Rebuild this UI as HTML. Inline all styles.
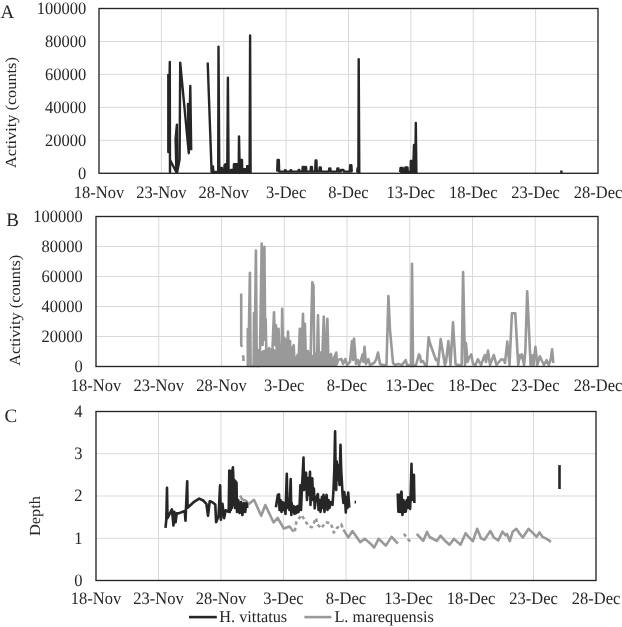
<!DOCTYPE html>
<html><head><meta charset="utf-8"><style>
html,body{margin:0;padding:0;background:#fff;}
body{width:622px;height:627px;overflow:hidden;}
svg{display:block;will-change:transform;}
text{font-family:"Liberation Serif", serif;fill:#262626;text-rendering:geometricPrecision;}
</style></head><body>
<svg width="622" height="627" viewBox="0 0 622 627">
<rect width="622" height="627" fill="#fff"/>
<line x1="161.38" y1="8.5" x2="161.38" y2="173.3" stroke="#d9d9d9" stroke-width="1"/>
<line x1="223.75" y1="8.5" x2="223.75" y2="173.3" stroke="#d9d9d9" stroke-width="1"/>
<line x1="286.12" y1="8.5" x2="286.12" y2="173.3" stroke="#d9d9d9" stroke-width="1"/>
<line x1="348.50" y1="8.5" x2="348.50" y2="173.3" stroke="#d9d9d9" stroke-width="1"/>
<line x1="410.88" y1="8.5" x2="410.88" y2="173.3" stroke="#d9d9d9" stroke-width="1"/>
<line x1="473.25" y1="8.5" x2="473.25" y2="173.3" stroke="#d9d9d9" stroke-width="1"/>
<line x1="535.62" y1="8.5" x2="535.62" y2="173.3" stroke="#d9d9d9" stroke-width="1"/>
<line x1="99" y1="140.34" x2="598" y2="140.34" stroke="#d9d9d9" stroke-width="1"/>
<line x1="99" y1="107.38" x2="598" y2="107.38" stroke="#d9d9d9" stroke-width="1"/>
<line x1="99" y1="74.42" x2="598" y2="74.42" stroke="#d9d9d9" stroke-width="1"/>
<line x1="99" y1="41.46" x2="598" y2="41.46" stroke="#d9d9d9" stroke-width="1"/>
<text transform="translate(86.3 178.7) scale(1 1.06)" text-anchor="end" font-size="16.5" >0</text>
<text transform="translate(86.3 145.7) scale(1 1.06)" text-anchor="end" font-size="16.5" >20000</text>
<text transform="translate(86.3 112.8) scale(1 1.06)" text-anchor="end" font-size="16.5" >40000</text>
<text transform="translate(86.3 79.8) scale(1 1.06)" text-anchor="end" font-size="16.5" >60000</text>
<text transform="translate(86.3 46.9) scale(1 1.06)" text-anchor="end" font-size="16.5" >80000</text>
<text transform="translate(86.3 13.9) scale(1 1.06)" text-anchor="end" font-size="16.5" >100000</text>
<text transform="translate(99.0 198) scale(1 1.06)" text-anchor="middle" font-size="16.5" >18-Nov</text>
<text transform="translate(161.4 198) scale(1 1.06)" text-anchor="middle" font-size="16.5" >23-Nov</text>
<text transform="translate(223.8 198) scale(1 1.06)" text-anchor="middle" font-size="16.5" >28-Nov</text>
<text transform="translate(286.1 198) scale(1 1.06)" text-anchor="middle" font-size="16.5" >3-Dec</text>
<text transform="translate(348.5 198) scale(1 1.06)" text-anchor="middle" font-size="16.5" >8-Dec</text>
<text transform="translate(410.9 198) scale(1 1.06)" text-anchor="middle" font-size="16.5" >13-Dec</text>
<text transform="translate(473.2 198) scale(1 1.06)" text-anchor="middle" font-size="16.5" >18-Dec</text>
<text transform="translate(535.6 198) scale(1 1.06)" text-anchor="middle" font-size="16.5" >23-Dec</text>
<text transform="translate(598.0 198) scale(1 1.06)" text-anchor="middle" font-size="16.5" >28-Dec</text>
<text transform="translate(0.5 17.6) scale(1 1.0)" text-anchor="start" font-size="19" >A</text>
<text x="0" y="0" text-anchor="middle" font-size="15.4" transform="translate(16.3,112.6) rotate(-90) scale(1.06 1)">Activity (counts)</text>
<polygon points="211.6,172.0 211.9,166.5 213.0,166.5 213.3,172.0 218.2,172.0 218.5,46.7 219.3,172.0 219.9,168.0 221.9,168.0 222.2,172.0 224.3,172.0 224.5,165.5 225.5,164.1 227.3,164.1 227.9,77.6 228.6,172.0 230.7,172.0 230.9,170.0 233.7,170.0 234.0,164.1 238.0,164.1 238.4,172.0 238.7,172.0 239.0,136.4 239.5,160.0 242.0,160.0 242.2,169.3 245.2,169.3 245.5,171.0 247.0,171.0 247.2,166.1 248.8,166.1 249.1,172.0 249.6,172.0 250.1,35.4 250.6,173.0 250.6,173.0 211.6,173.0" fill="#262626" stroke="none"/>
<polygon points="400.2,172.0 400.5,168.0 402.7,168.0 403.0,172.0 405.1,172.0 405.3,167.5 407.5,167.5 407.8,172.0 410.6,172.0 410.8,161.0 413.5,161.0 414.0,145.0 414.6,172.0 415.3,172.0 415.8,123.0 416.4,173.0 416.4,173.0 400.2,173.0" fill="#262626" stroke="none"/>
<polyline points="168.3,74.0 168.3,152.0 169.8,62.0 170.0,172.0 170.1,160.0 176.4,172.3 175.6,139.0 176.9,124.6 177.2,172.0 179.6,159.4 180.2,62.7 188.8,153.2 188.0,104.0 189.0,150.0 190.3,86.0 191.2,150.3" fill="none" stroke="#262626" stroke-width="2.4" stroke-linejoin="round" stroke-linecap="butt" />
<polyline points="207.7,62.5 211.6,172.0 211.9,166.5 213.0,166.5 213.3,172.0 218.2,172.0 218.5,46.7 219.3,172.0 219.9,168.0 221.9,168.0 222.2,172.0 224.3,172.0 224.5,165.5 225.5,164.1 227.3,164.1 227.9,77.6 228.6,172.0 230.7,172.0 230.9,170.0 233.7,170.0 234.0,164.1 238.0,164.1 238.4,172.0 238.7,172.0 239.0,136.4 239.5,160.0 242.0,160.0 242.2,169.3 245.2,169.3 245.5,171.0 247.0,171.0 247.2,166.1 248.8,166.1 249.1,172.0 249.6,172.0 250.1,35.4 250.6,173.0" fill="none" stroke="#262626" stroke-width="2.4" stroke-linejoin="round" stroke-linecap="butt" />
<polyline points="277.2,171.6 277.2,171.6 277.6,160.0 278.8,160.0 279.2,171.6 284.6,171.6 285.0,170.3 285.6,170.3 286.0,171.6 290.2,171.6 290.6,170.3 291.2,170.3 291.6,171.6 298.3,171.6 298.7,170.0 299.3,170.0 299.7,171.6 302.4,171.6 302.7,167.0 303.5,167.0 303.9,171.6 304.9,171.6 305.2,167.0 306.0,167.0 306.4,171.6 310.5,171.6 310.9,167.0 311.9,167.0 312.2,171.6 315.2,171.6 315.6,160.5 316.4,160.5 316.8,171.6 319.3,171.6 319.7,167.4 320.7,167.4 321.1,171.6 328.9,171.6 329.3,168.5 330.3,168.5 330.7,171.6 337.0,171.6 337.4,168.5 338.4,168.5 338.8,171.6 340.8,171.6 341.1,170.0 343.5,170.0 343.9,171.6 349.8,171.6 350.2,165.3 351.4,165.3 351.8,171.6 352.4,171.6" fill="none" stroke="#262626" stroke-width="2.4" stroke-linejoin="round" stroke-linecap="butt" />
<polyline points="357.2,172.5 357.6,168.3 358.4,172.0 358.7,59.3 359.3,173.0" fill="none" stroke="#262626" stroke-width="2.4" stroke-linejoin="round" stroke-linecap="butt" />
<polyline points="400.2,172.0 400.5,168.0 402.7,168.0 403.0,172.0 405.1,172.0 405.3,167.5 407.5,167.5 407.8,172.0 410.6,172.0 410.8,161.0 413.5,161.0 414.0,145.0 414.6,172.0 415.3,172.0 415.8,123.0 416.4,173.0" fill="none" stroke="#262626" stroke-width="2.4" stroke-linejoin="round" stroke-linecap="butt" />
<polyline points="561.3,170.5 561.5,173.0" fill="none" stroke="#262626" stroke-width="2.4" stroke-linejoin="round" stroke-linecap="butt" />
<rect x="99" y="8.5" width="499" height="164.8" fill="none" stroke="#262626" stroke-width="1.35"/>
<line x1="158.75" y1="216.5" x2="158.75" y2="366.5" stroke="#d9d9d9" stroke-width="1"/>
<line x1="221.50" y1="216.5" x2="221.50" y2="366.5" stroke="#d9d9d9" stroke-width="1"/>
<line x1="284.25" y1="216.5" x2="284.25" y2="366.5" stroke="#d9d9d9" stroke-width="1"/>
<line x1="347.00" y1="216.5" x2="347.00" y2="366.5" stroke="#d9d9d9" stroke-width="1"/>
<line x1="409.75" y1="216.5" x2="409.75" y2="366.5" stroke="#d9d9d9" stroke-width="1"/>
<line x1="472.50" y1="216.5" x2="472.50" y2="366.5" stroke="#d9d9d9" stroke-width="1"/>
<line x1="535.25" y1="216.5" x2="535.25" y2="366.5" stroke="#d9d9d9" stroke-width="1"/>
<line x1="96" y1="336.50" x2="598" y2="336.50" stroke="#d9d9d9" stroke-width="1"/>
<line x1="96" y1="306.50" x2="598" y2="306.50" stroke="#d9d9d9" stroke-width="1"/>
<line x1="96" y1="276.50" x2="598" y2="276.50" stroke="#d9d9d9" stroke-width="1"/>
<line x1="96" y1="246.50" x2="598" y2="246.50" stroke="#d9d9d9" stroke-width="1"/>
<text transform="translate(82.7 371.9) scale(1 1.06)" text-anchor="end" font-size="16.5" >0</text>
<text transform="translate(82.7 341.9) scale(1 1.06)" text-anchor="end" font-size="16.5" >20000</text>
<text transform="translate(82.7 311.9) scale(1 1.06)" text-anchor="end" font-size="16.5" >40000</text>
<text transform="translate(82.7 281.9) scale(1 1.06)" text-anchor="end" font-size="16.5" >60000</text>
<text transform="translate(82.7 251.9) scale(1 1.06)" text-anchor="end" font-size="16.5" >80000</text>
<text transform="translate(82.7 221.9) scale(1 1.06)" text-anchor="end" font-size="16.5" >100000</text>
<text transform="translate(96.0 390.6) scale(1 1.06)" text-anchor="middle" font-size="16.5" >18-Nov</text>
<text transform="translate(158.8 390.6) scale(1 1.06)" text-anchor="middle" font-size="16.5" >23-Nov</text>
<text transform="translate(221.5 390.6) scale(1 1.06)" text-anchor="middle" font-size="16.5" >28-Nov</text>
<text transform="translate(284.2 390.6) scale(1 1.06)" text-anchor="middle" font-size="16.5" >3-Dec</text>
<text transform="translate(347.0 390.6) scale(1 1.06)" text-anchor="middle" font-size="16.5" >8-Dec</text>
<text transform="translate(409.8 390.6) scale(1 1.06)" text-anchor="middle" font-size="16.5" >13-Dec</text>
<text transform="translate(472.5 390.6) scale(1 1.06)" text-anchor="middle" font-size="16.5" >18-Dec</text>
<text transform="translate(535.2 390.6) scale(1 1.06)" text-anchor="middle" font-size="16.5" >23-Dec</text>
<text transform="translate(598.0 390.6) scale(1 1.06)" text-anchor="middle" font-size="16.5" >28-Dec</text>
<text transform="translate(6.3 225.6) scale(1 1.0)" text-anchor="start" font-size="19" >B</text>
<text x="0" y="0" text-anchor="middle" font-size="15.4" transform="translate(19.7,310.3) rotate(-90) scale(1.06 1)">Activity (counts)</text>
<polygon points="260.5,366.0 260.5,352.0 263.0,350.0 266.0,349.0 272.0,348.0 276.0,350.0 279.0,353.0 282.0,352.0 282.5,340.0 285.0,337.0 288.0,341.0 291.0,346.0 293.0,352.0 295.0,357.0 298.0,362.0 300.0,358.0 302.0,352.0 304.0,350.0 306.0,356.0 308.0,354.0 310.0,352.0 311.0,356.0 316.0,352.0 318.0,355.0 320.0,352.0 324.0,350.0 326.0,355.0 328.0,352.0 330.0,358.0 333.0,360.0 336.0,358.0 337.0,366.0 337.0,366.0 260.5,366.0" fill="#999999" stroke="none"/>
<polyline points="241.2,293.6 241.2,345.3 242.3,346.7" fill="none" stroke="#999999" stroke-width="2.6" stroke-linejoin="round" stroke-linecap="butt" />
<polyline points="243.2,355.3 243.5,361.0" fill="none" stroke="#999999" stroke-width="2.6" stroke-linejoin="round" stroke-linecap="butt" />
<polyline points="247.8,366.0 247.8,329.0 248.3,366.0 249.9,272.8 250.6,366.0 253.6,366.0 254.0,313.0 254.6,366.0 255.9,250.5 256.8,366.0 258.5,366.0 259.0,350.0 259.8,366.0 261.7,243.5 262.6,345.0 264.4,246.7 265.2,340.0 265.7,319.0 266.5,362.0 267.0,350.0 268.0,362.0 269.0,348.0 270.0,364.0 271.0,352.0 272.0,360.0 274.0,312.3 275.0,345.0 276.0,325.2 277.0,360.0 278.6,328.8 279.5,362.0 280.5,345.0 281.5,360.0 282.2,308.7 283.0,350.0 283.6,337.4 284.5,362.0 285.5,345.0 286.5,360.0 288.0,331.6 289.0,355.0 290.0,341.0 291.0,364.0 292.0,350.0 293.7,345.3 294.5,362.0 295.5,357.5 296.5,365.0 297.5,355.0 298.5,364.0 299.8,328.8 300.8,362.0 302.0,340.0 303.0,313.7 304.0,360.0 304.9,323.8 306.0,364.0 307.0,355.0 308.0,351.0 309.0,364.0 310.6,360.0 311.4,317.0 312.3,282.2 313.5,285.7 314.3,362.0 316.0,355.0 317.0,362.0 318.0,315.2 319.0,364.0 320.0,355.0 321.0,352.5 322.0,364.0 323.8,316.6 325.0,350.0 326.0,362.0 327.4,318.7 328.5,364.0 330.0,356.0 331.0,354.0 332.0,364.0 334.0,358.0 336.3,352.5 337.0,364.0 338.0,360.0 341.5,359.0 343.0,364.0 345.3,359.0 347.0,365.0 350.0,362.0 352.0,341.0 353.0,360.0 354.0,338.5 356.0,364.0 357.8,360.0 359.0,365.0 361.0,360.0 362.6,354.4 363.5,362.0 364.5,346.7 366.0,364.0 368.3,359.2 370.0,365.0 374.0,363.0 376.0,360.0 378.0,352.5 380.0,364.0 383.0,365.0 386.5,365.0 388.4,296.0 390.0,330.0 393.0,363.0 395.0,365.0 398.0,364.0 402.0,365.0 405.7,360.0 407.0,365.0 410.0,365.0 411.2,366.0 412.0,263.8 413.0,366.0 416.0,365.0 419.0,354.4 420.0,356.0 421.0,362.0 423.0,361.0 425.0,365.0 426.7,366.0 428.6,337.2 430.5,344.8 436.0,360.0 437.6,359.0 438.2,365.0 440.7,339.0 444.9,365.0 446.0,362.0 448.4,341.0 450.5,365.0 453.0,322.4 455.5,364.0 458.0,365.0 461.7,365.0 463.1,272.0 465.0,365.0 466.0,343.0 467.5,362.0 469.5,357.0 471.3,354.4 473.0,364.0 475.5,365.0 477.9,359.2 481.0,365.0 484.8,355.0 486.0,362.0 488.0,350.6 490.0,365.0 493.8,355.0 496.5,365.0 499.0,362.0 501.4,359.2 504.0,360.0 505.0,363.0 507.3,341.6 509.5,365.0 511.9,313.2 515.3,313.2 518.2,365.0 520.0,355.0 521.0,358.0 522.0,354.4 524.0,365.0 525.3,352.5 527.2,291.2 530.6,365.0 532.2,355.4 533.5,365.0 535.4,346.7 537.4,365.0 539.8,356.3 542.0,361.0 544.0,365.0 546.6,360.2 548.8,365.0 550.8,359.0 552.1,349.2 553.3,363.0" fill="none" stroke="#999999" stroke-width="2.6" stroke-linejoin="round" stroke-linecap="butt" />
<rect x="96" y="216.5" width="502" height="150.0" fill="none" stroke="#262626" stroke-width="1.35"/>
<line x1="158.50" y1="411.5" x2="158.50" y2="580.5" stroke="#d9d9d9" stroke-width="1"/>
<line x1="221.00" y1="411.5" x2="221.00" y2="580.5" stroke="#d9d9d9" stroke-width="1"/>
<line x1="283.50" y1="411.5" x2="283.50" y2="580.5" stroke="#d9d9d9" stroke-width="1"/>
<line x1="346.00" y1="411.5" x2="346.00" y2="580.5" stroke="#d9d9d9" stroke-width="1"/>
<line x1="408.50" y1="411.5" x2="408.50" y2="580.5" stroke="#d9d9d9" stroke-width="1"/>
<line x1="471.00" y1="411.5" x2="471.00" y2="580.5" stroke="#d9d9d9" stroke-width="1"/>
<line x1="533.50" y1="411.5" x2="533.50" y2="580.5" stroke="#d9d9d9" stroke-width="1"/>
<line x1="96" y1="538.25" x2="596" y2="538.25" stroke="#d9d9d9" stroke-width="1"/>
<line x1="96" y1="496.00" x2="596" y2="496.00" stroke="#d9d9d9" stroke-width="1"/>
<line x1="96" y1="453.75" x2="596" y2="453.75" stroke="#d9d9d9" stroke-width="1"/>
<text transform="translate(82.4 585.9) scale(1 1.06)" text-anchor="end" font-size="16.5" >0</text>
<text transform="translate(82.4 543.6) scale(1 1.06)" text-anchor="end" font-size="16.5" >1</text>
<text transform="translate(82.4 501.4) scale(1 1.06)" text-anchor="end" font-size="16.5" >2</text>
<text transform="translate(82.4 459.1) scale(1 1.06)" text-anchor="end" font-size="16.5" >3</text>
<text transform="translate(82.4 416.9) scale(1 1.06)" text-anchor="end" font-size="16.5" >4</text>
<text transform="translate(96.0 604.3) scale(1 1.06)" text-anchor="middle" font-size="16.5" >18-Nov</text>
<text transform="translate(158.5 604.3) scale(1 1.06)" text-anchor="middle" font-size="16.5" >23-Nov</text>
<text transform="translate(221.0 604.3) scale(1 1.06)" text-anchor="middle" font-size="16.5" >28-Nov</text>
<text transform="translate(283.5 604.3) scale(1 1.06)" text-anchor="middle" font-size="16.5" >3-Dec</text>
<text transform="translate(346.0 604.3) scale(1 1.06)" text-anchor="middle" font-size="16.5" >8-Dec</text>
<text transform="translate(408.5 604.3) scale(1 1.06)" text-anchor="middle" font-size="16.5" >13-Dec</text>
<text transform="translate(471.0 604.3) scale(1 1.06)" text-anchor="middle" font-size="16.5" >18-Dec</text>
<text transform="translate(533.5 604.3) scale(1 1.06)" text-anchor="middle" font-size="16.5" >23-Dec</text>
<text transform="translate(596.0 604.3) scale(1 1.06)" text-anchor="middle" font-size="16.5" >28-Dec</text>
<text transform="translate(4.5 421.6) scale(1 1.0)" text-anchor="start" font-size="19" >C</text>
<text x="0" y="0" text-anchor="middle" font-size="15.4" transform="translate(40.2,516) rotate(-90) scale(1.06 1)">Depth</text>
<polyline points="240.1,495.7 242.2,499.3 246.3,500.9 248.3,504.5 254.0,499.8 261.2,515.8 265.3,505.0 273.6,522.5 277.7,517.8 283.8,528.6 289.5,526.6 291.5,529.0" fill="none" stroke="#999999" stroke-width="2.6" stroke-linejoin="round" stroke-linecap="butt" />
<polyline points="343.4,529.6 348.2,537.4 352.5,531.1 360.3,542.2 364.6,538.8 370.4,543.6 374.2,547.5 378.6,538.8 385.8,545.6 391.6,536.9 397.9,543.6" fill="none" stroke="#999999" stroke-width="2.6" stroke-linejoin="round" stroke-linecap="butt" />
<polyline points="416.7,533.8 423.2,540.9 427.0,531.9 429.6,537.0 436.7,540.9 440.5,535.7 444.4,540.2 449.5,544.7 454.0,538.9 460.5,544.7 465.6,533.2 468.2,536.4 472.8,541.2 477.2,528.8 480.9,538.2 484.5,539.7 490.3,531.0 493.9,537.5 498.2,540.4 502.6,531.7 505.5,535.3 507.0,534.0 509.8,541.1 512.7,531.7 516.3,528.8 519.9,533.9 522.8,537.5 528.6,528.8 533.0,533.2 536.6,536.8 539.5,532.4 542.4,536.8 546.7,538.9 551.0,541.8" fill="none" stroke="#999999" stroke-width="2.6" stroke-linejoin="round" stroke-linecap="butt" />
<polyline points="291.5,529.0 294.6,532.8 296.3,522.2 301.5,514.9 304.6,520.0 308.8,526.3 311.9,527.2 316.1,518.0 317.0,524.0 321.3,528.4 325.5,522.2 330.8,523.2 333.9,532.6 337.0,528.0 341.2,524.3 343.5,530.0" fill="none" stroke="#999999" stroke-width="2.6" stroke-linejoin="round" stroke-linecap="butt" stroke-dasharray="3.5 3"/>
<polyline points="403.9,533.7 408.4,539.6 410.9,542.2" fill="none" stroke="#999999" stroke-width="2.6" stroke-linejoin="round" stroke-linecap="butt" stroke-dasharray="3.5 3"/>
<polyline points="165.5,527.9 166.3,519.8 167.0,487.7 167.5,518.2 169.5,514.2 171.9,509.4 173.5,525.5 174.3,511.8 175.6,522.3 176.7,513.4 178.5,513.4 184.7,511.0 185.5,520.6 186.4,499.0 187.2,481.3 187.6,507.8 193.6,502.2 199.2,498.6 203.2,500.5 206.4,503.8 208.0,515.8 209.7,501.3 212.0,502.0 215.3,504.6 216.1,522.3 218.5,516.6 220.1,485.3 220.9,519.8 222.5,503.8 224.1,518.2 225.7,510.2 228.7,512.0 229.3,470.5 229.8,512.0 230.3,472.0 230.8,510.0 231.3,471.0 231.8,508.0 232.4,470.0 232.9,467.4 233.4,478.8 233.9,505.0 234.4,480.0 234.9,508.0 235.4,481.0 235.9,506.0 236.5,482.5 237.0,512.0 238.2,500.0 239.6,513.0 241.0,502.0 242.4,515.0 243.8,503.0 245.2,512.0 246.4,503.0 247.4,508.0" fill="none" stroke="#262626" stroke-width="2.6" stroke-linejoin="round" stroke-linecap="butt" />
<polyline points="275.9,507.3 277.8,495.0 279.0,494.4 279.5,510.0 280.5,500.0 281.5,512.0 282.5,502.0 283.5,510.0 284.5,503.0 285.5,514.0 286.8,473.9 287.5,508.0 288.5,500.0 289.5,510.0 290.7,479.0 291.3,515.0 291.6,502.9 292.4,512.0 293.5,506.0 294.5,514.0 295.5,507.0 296.5,513.0 297.5,506.0 298.5,512.0 299.6,505.0 300.4,485.3 301.0,510.0 302.0,486.7 302.9,470.0 303.5,457.5 304.0,490.0 305.0,475.0 306.0,472.6 307.0,500.0 308.0,478.0 309.0,495.0 310.0,471.8 310.5,505.0 311.0,490.0 312.3,478.2 313.0,500.0 313.9,488.5 314.7,508.4 316.0,498.0 317.9,494.1 318.5,510.0 319.5,500.0 320.5,512.0 321.9,497.0 322.5,508.0 323.5,494.9 324.5,512.0 325.5,498.0 326.6,494.9 327.5,510.0 328.5,500.0 329.5,508.0 330.5,502.0 331.4,502.9 332.5,505.0 333.5,490.0 334.3,470.0 335.1,431.2 335.6,470.0 336.2,490.0 336.7,461.4 337.5,480.0 338.5,465.0 339.5,485.0 340.5,444.7 341.2,470.0 341.8,480.6 342.6,495.0 343.4,502.9 344.2,492.0 345.0,497.3 345.8,512.4 346.6,497.0 347.4,508.0 348.2,492.5 349.3,507.6" fill="none" stroke="#262626" stroke-width="2.6" stroke-linejoin="round" stroke-linecap="butt" />
<polyline points="354.6,502.1 356.0,502.1" fill="none" stroke="#262626" stroke-width="2.6" stroke-linejoin="round" stroke-linecap="butt" />
<polyline points="397.7,493.5 398.4,511.7 399.1,495.0 400.0,512.0 401.0,493.0 401.5,491.6 402.4,515.0 403.4,500.0 404.4,512.0 405.3,502.0 405.8,511.7 406.8,500.0 407.5,508.0 408.2,497.3 409.0,507.0 410.1,508.8 410.8,490.0 411.5,463.8 412.0,500.0 412.6,476.0 413.2,498.0 413.9,474.8 414.4,503.0" fill="none" stroke="#262626" stroke-width="2.6" stroke-linejoin="round" stroke-linecap="butt" />
<polyline points="559.5,465.1 559.5,489.0" fill="none" stroke="#262626" stroke-width="2.6" stroke-linejoin="round" stroke-linecap="butt" />
<rect x="96" y="411.5" width="500" height="169.0" fill="none" stroke="#262626" stroke-width="1.35"/>
<line x1="189" y1="617.1" x2="216.8" y2="617.1" stroke="#262626" stroke-width="2.6"/>
<text transform="translate(219.3 621.7) scale(1 1.0)" text-anchor="start" font-size="16.3" >H. vittatus</text>
<line x1="304.4" y1="617.1" x2="331.4" y2="617.1" stroke="#999999" stroke-width="2.6"/>
<text transform="translate(334.4 621.7) scale(1 1.0)" text-anchor="start" font-size="16.3" >L. marequensis</text>
</svg>
</body></html>
